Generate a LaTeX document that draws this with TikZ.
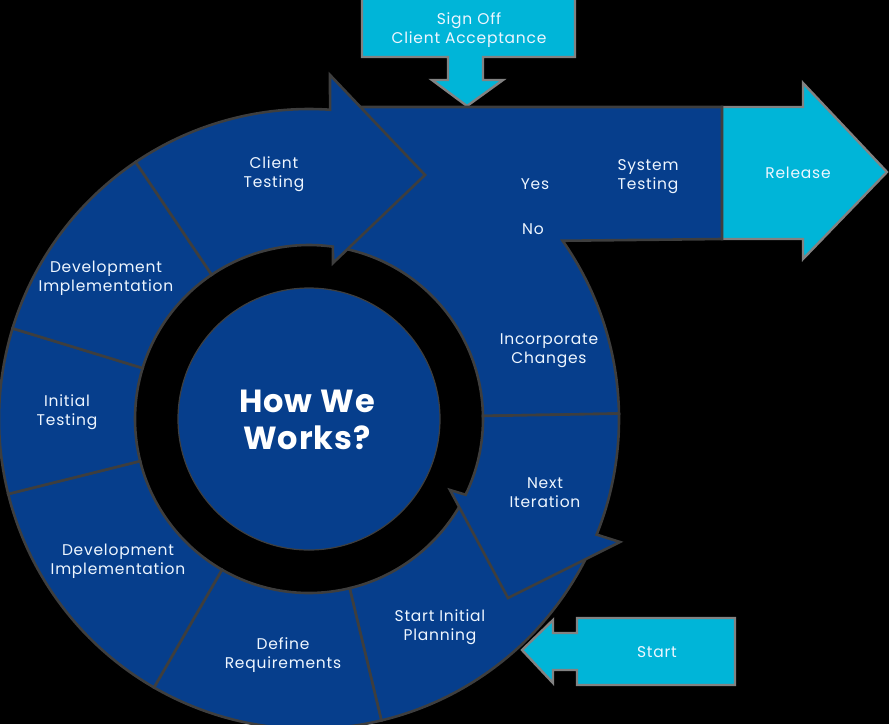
\documentclass[tikz,border=0pt]{standalone}
\usepackage{fontspec}
\setmainfont{Poppins}
\definecolor{segblue}{RGB}{6,62,140}
\definecolor{arrcyan}{RGB}{0,181,216}
\definecolor{segedge}{RGB}{62,62,62}
\definecolor{cyedge}{RGB}{130,130,130}
\definecolor{txt}{RGB}{238,246,255}
\newcommand{\ri}{174}
\newcommand{\ro}{310}
\newcommand{\ringseg}[2]{\filldraw[seg] ([shift={(309,419)}]#1:\ro) arc[start angle=#1,end angle=#2,radius=\ro] -- ([shift={(309,419)}]#2:\ri) arc[start angle=#2,end angle=#1,radius=\ri] -- cycle;}
\tikzset{
  seg/.style={fill=segblue,draw=segedge,line width=2.6pt,line join=miter},
  cyshape/.style={fill=arrcyan,draw=cyedge,line width=2.4pt,line join=miter},
  lbl/.style={text=txt,align=center,font=\fontsize{15.5}{19}\selectfont\addfontfeatures{LetterSpace=5}\strut,inner sep=0pt},
  big/.style={text=white,align=center,font=\fontsize{32}{37}\bfseries\selectfont\addfontfeatures{LetterSpace=3},inner sep=0pt}
}
\begin{document}
\begin{tikzpicture}[x=1pt,y=1pt,yscale=-1]
\useasboundingbox (0,0) rectangle (889,724);
\fill[black] (0,0) rectangle (889,724);
\begin{scope}
\clip (0,0) rectangle (889,724);
% Sign off arrow
\filldraw[cyshape] (362,-10) -- (575,-10) -- (575,57) -- (483,57) -- (483,80) -- (503,80) -- (467,106) -- (432,80) -- (448,80) -- (448,57) -- (362,57) -- cycle;
% Release arrow
\filldraw[cyshape] (722,107) -- (803,107) -- (803,83) -- (887,172) -- (803,259) -- (803,239) -- (722,239) -- cycle;
% ring segments
\ringseg{25}{76.5}
\ringseg{76.5}{120}
\ringseg{120}{166}
\ringseg{166}{197}
\ringseg{197}{236}
% System testing / incorporate changes region
\filldraw[seg] (345,107) -- (722,107) -- (722,239) -- ([shift={(309,419)}]-35.1:\ro) arc[start angle=-35.1,end angle=-1,radius=\ro] -- ([shift={(309,419)}]-1:\ri) arc[start angle=-1,end angle=-80,radius=\ri] -- cycle;
% Next iteration arrow
\filldraw[seg] ([shift={(309,419)}]-1:\ro) arc[start angle=-1,end angle=21.9,radius=\ro] -- (620,542) -- (508,598) -- (450,490) -- ([shift={(309,419)}]25.8:\ri) arc[start angle=25.8,end angle=-1,radius=\ri] -- cycle;
% Client testing arrow
\filldraw[seg] ([shift={(309,419)}]236:\ri) -- ([shift={(309,419)}]236:\ro) arc[start angle=236,end angle=273.9,radius=\ro] -- (330,75) -- (425,175) -- (333,263) -- ([shift={(309,419)}]277.9:\ri) arc[start angle=277.9,end angle=236,radius=\ri] -- cycle;
% centre
\filldraw[fill=segblue,draw=segedge,line width=1.2pt] (309,419) circle[radius=131];
% Start arrow
\filldraw[cyshape] (735,618) -- (577,618) -- (577,633) -- (553,633) -- (553,620) -- (522,650) -- (553,683) -- (553,670) -- (577,670) -- (577,685) -- (735,685) -- cycle;
\end{scope}
% labels
\node[lbl] (signoff) at (469,31) {Sign Off\\Client Acceptance};
\node[lbl] (release) at (798,175) {Release};
\node[lbl] (client) at (274,175) {Client\\Testing};
\node[lbl] (system) at (648,177) {System\\Testing};
\node[lbl] (yes) at (535,186) {Yes};
\node[lbl] (no) at (533,231) {No};
\node[lbl] (devup) at (106,279) {Development\\Implementation};
\node[lbl] (initial) at (67,413) {Initial\\Testing};
\node[lbl] (devlow) at (118,562) {Development\\Implementation};
\node[lbl] (define) at (283,656) {Define\\Requirements};
\node[lbl] (planning) at (440,628) {Start Initial\\Planning};
\node[lbl] (next) at (545,495) {Next\\Iteration};
\node[lbl] (incorp) at (549,351) {Incorporate\\Changes};
\node[lbl] (start) at (657,654) {Start};
\node[big] (how) at (307,420) {How We\\Works?};
\end{tikzpicture}
\end{document}
